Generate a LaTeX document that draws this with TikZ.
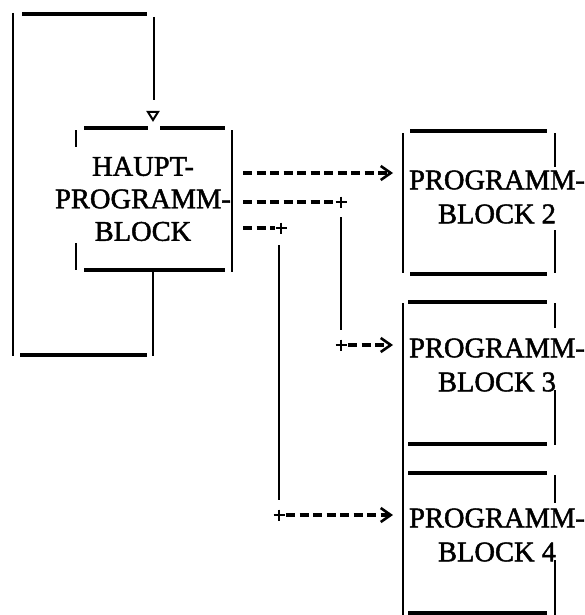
\documentclass[tikz,border=0pt]{standalone}
\usepackage{fontspec}
\setmainfont{Liberation Serif}
\newfontfamily\blockfont{Liberation Serif}[FakeBold=1.6]
\usetikzlibrary{arrows.meta}

\begin{document}
\begin{tikzpicture}[x=1pt,y=-1pt,
  quer/.style={line width=3.2pt},
  senk/.style={line width=1.8pt},
  strich/.style={line width=3.2pt, dash pattern=on 9pt off 4.5pt},
  pfeil/.style={strich, -{Straight Barb[length=10pt,width=14pt,line width=2.6pt]}},
  blocktext/.style={align=center, inner sep=0pt, font=\blockfont\fontsize{28.5}{34}\selectfont}
]
\useasboundingbox (0,0) rectangle (584,615);

% Hauptprogrammblock with its loop
\node[blocktext, font=\blockfont\fontsize{28.5}{32.5}\selectfont] (haupt) at (143,199) {HAUPT-\\PROGRAMM-\\BLOCK};
\draw[quer] (84,128) -- (148,128) (160,128) -- (225,128);
\draw[quer] (84,270) -- (225,270);
\draw[senk] (76,130) -- (76,147) (76,243) -- (76,270);
\draw[senk] (232,130) -- (232,272);

\draw[senk] (153,271) -- (153,356);
\draw[quer] (20,355) -- (147,355);
\draw[senk] (13,13) -- (13,356);
\draw[quer] (22,14) -- (147,14);
\draw[senk] (154,17) -- (154,100);
\draw[line width=2pt, line join=miter] (148,112) -- (158,112) -- (153,120) -- cycle;

% Programmbloecke 2 to 4
\node[blocktext] (pb2) at (497,197) {PROGRAMM-\\BLOCK 2};
\node[blocktext] (pb3) at (497,365) {PROGRAMM-\\BLOCK 3};
\node[blocktext] (pb4) at (497,535) {PROGRAMM-\\BLOCK 4};

\draw[quer] (410,131) -- (547,131) (410,274) -- (547,274);
\draw[senk] (403,133) -- (403,273);
\draw[senk] (555,133) -- (555,167) (555,230) -- (555,273);

\draw[quer] (408,302) -- (547,302) (408,444) -- (547,444);
\draw[senk] (403,303) -- (403,445);
\draw[senk] (555,303) -- (555,328) (555,390) -- (555,445);

\draw[quer] (408,473) -- (547,473) (408,613) -- (547,613);
\draw[senk] (403,445) -- (403,615);
\draw[senk] (555,475) -- (555,503) (555,560) -- (555,615);

% connectors
\coordinate (k1) at (341,202);
\coordinate (k2) at (341,345);
\coordinate (k3) at (281,228);
\coordinate (k4) at (279,515);

\draw[pfeil] (243,173) -- (393,173);

\draw[strich] (243,202) -- (335,202);
\draw[senk] (341,217) -- (341,330);
\draw[pfeil] (k2) ++(7,0) -- (393,345);

\draw[strich] (243,228) -- (275,228);
\draw[senk] (279,245) -- (279,500);
\draw[pfeil] (k4) ++(7,0) -- (393,515);

\foreach \k in {k1,k2,k3,k4}
  \draw[line width=2.8pt] (\k) +(-5.5,0) -- +(5.5,0) +(0,-5.5) -- +(0,5.5);

\end{tikzpicture}
\end{document}
